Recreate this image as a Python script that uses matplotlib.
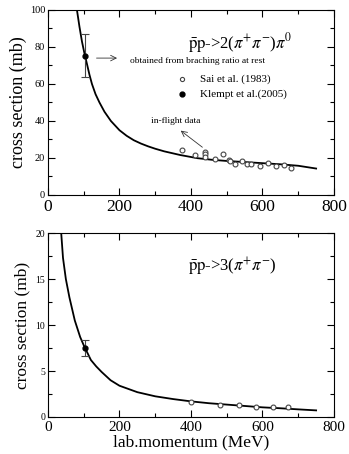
import matplotlib
matplotlib.use("Agg")
import matplotlib.pyplot as plt
from matplotlib.ticker import MultipleLocator

plt.rcParams['font.family'] = ['Liberation Serif', 'DejaVu Serif']
plt.rcParams['mathtext.fontset'] = 'stix'

# ---- top panel data: pbar p -> 2(pi+ pi-) pi0 ----
top_curve_x = [81, 88, 95, 102, 110, 116, 123, 133, 144, 158, 176, 200, 220, 240, 260, 280, 300, 325, 370, 418, 460, 500, 550, 600, 650, 700, 750]
top_curve_y = [100, 91, 83, 76.5, 70, 65, 60, 54.5, 50, 45, 40, 35, 32, 29.6, 27.8, 26.3, 25.0, 23.6, 21.6, 19.9, 19.0, 18.4, 17.8, 17.2, 16.6, 15.8, 14.3]
top_sai_x = [375, 410, 438, 438, 438, 468, 490, 505, 508, 524, 543, 557, 567, 594, 615, 639, 660, 681]
top_sai_y = [24.2, 21.6, 23.4, 22.2, 20.7, 19.3, 22.0, 18.9, 18.4, 16.9, 18.2, 16.6, 16.9, 15.8, 17.1, 15.8, 16.2, 14.8]
top_klempt_x = [104]
top_klempt_y = [75.3]
top_klempt_err = [11.5]

# ---- bottom panel data: pbar p -> 3(pi+ pi-) ----
bot_curve_x = [37, 42, 50, 60, 75, 90, 100, 110, 120, 135, 150, 175, 200, 250, 300, 350, 400, 450, 500, 550, 600, 650, 700, 750]
bot_curve_y = [20, 17.3, 15, 13, 10.5, 8.7, 7.8, 7.0, 6.2, 5.5, 4.9, 4.0, 3.4, 2.7, 2.25, 1.95, 1.7, 1.5, 1.35, 1.2, 1.05, 0.95, 0.83, 0.72]
bot_sai_x = [401, 480, 535, 583, 629, 672]
bot_sai_y = [1.63, 1.34, 1.27, 1.05, 1.05, 1.12]
bot_klempt_x = [103]
bot_klempt_y = [7.5]
bot_klempt_err = [0.9]

fig = plt.figure(figsize=(3.49, 4.54), dpi=100)
ax1 = fig.add_axes([0.1375, 0.5705, 0.8195, 0.4075])
ax2 = fig.add_axes([0.1375, 0.0815, 0.8195, 0.405])

def style(ax, ymax, ymajor, yminor, xfs, yfs):
    ax.set_xlim(0, 800)
    ax.set_ylim(0, ymax)
    ax.xaxis.set_major_locator(MultipleLocator(200))
    ax.xaxis.set_minor_locator(MultipleLocator(100))
    ax.yaxis.set_major_locator(MultipleLocator(ymajor))
    ax.yaxis.set_minor_locator(MultipleLocator(yminor))
    ax.tick_params(which='both', direction='in', top=True, right=True, width=0.8)
    ax.tick_params(which='major', length=5)
    ax.tick_params(which='minor', length=3)
    ax.tick_params(axis='x', labelsize=xfs, pad=3)
    ax.tick_params(axis='y', labelsize=yfs, pad=2)
    for s in ax.spines.values():
        s.set_linewidth(0.8)

# top
ax1.plot(top_curve_x, top_curve_y, color='black', lw=1.3)
ax1.plot(top_sai_x, top_sai_y, 'o', ms=3.5, mfc='white', mec='#444444', mew=0.8)
ax1.errorbar(top_klempt_x, top_klempt_y, yerr=top_klempt_err, fmt='o', ms=3.5,
             color='black', ecolor='#444444', elinewidth=0.8, capsize=2.7, capthick=0.8)
style(ax1, 100, 20, 10, 12.5, 7.5)
ax1.set_ylabel('cross section (mb)', fontsize=13, labelpad=2)
ax1.text(391, 82, r'$\bar{\mathrm{p}}\mathrm{p}$->2($\pi^{+}\pi^{-}$)$\pi^{0}$', fontsize=12, va='center', ha='left')
ax1.annotate('', xy=(201, 74), xytext=(128, 74),
             arrowprops=dict(arrowstyle='->', color='#333333', lw=0.6))
ax1.text(229, 72.4, 'obtained from braching ratio at rest', fontsize=6.8, va='center', ha='left')
ax1.plot([376], [62.7], 'o', ms=3, mfc='white', mec='#444444', mew=0.8)
ax1.plot([376], [54.6], 'o', ms=3.5, color='black')
ax1.text(424, 62.7, 'Sai et al. (1983)', fontsize=8, va='center', ha='left')
ax1.text(424, 54.6, 'Klempt et al.(2005)', fontsize=8, va='center', ha='left')
ax1.text(358, 40, 'in-flight data', fontsize=6.8, va='center', ha='center')
ax1.annotate('', xy=(365, 35.7), xytext=(438, 24.9),
             arrowprops=dict(arrowstyle='->', color='#333333', lw=0.6))

# bottom
ax2.plot(bot_curve_x, bot_curve_y, color='black', lw=1.3)
ax2.plot(bot_sai_x, bot_sai_y, 'o', ms=3.5, mfc='white', mec='#444444', mew=0.8)
ax2.errorbar(bot_klempt_x, bot_klempt_y, yerr=bot_klempt_err, fmt='o', ms=3.5,
             color='black', ecolor='#444444', elinewidth=0.8, capsize=2.7, capthick=0.8)
style(ax2, 20, 5, 2.5, 11, 7)
ax2.set_ylabel('cross section (mb)', fontsize=12.5, labelpad=4)
ax2.set_xlabel('lab.momentum (MeV)', fontsize=12.5, labelpad=0)
ax2.text(391, 16.3, r'$\bar{\mathrm{p}}\mathrm{p}$->3($\pi^{+}\pi^{-}$)', fontsize=12, va='center', ha='left')

fig.savefig('out.png', dpi=100)
